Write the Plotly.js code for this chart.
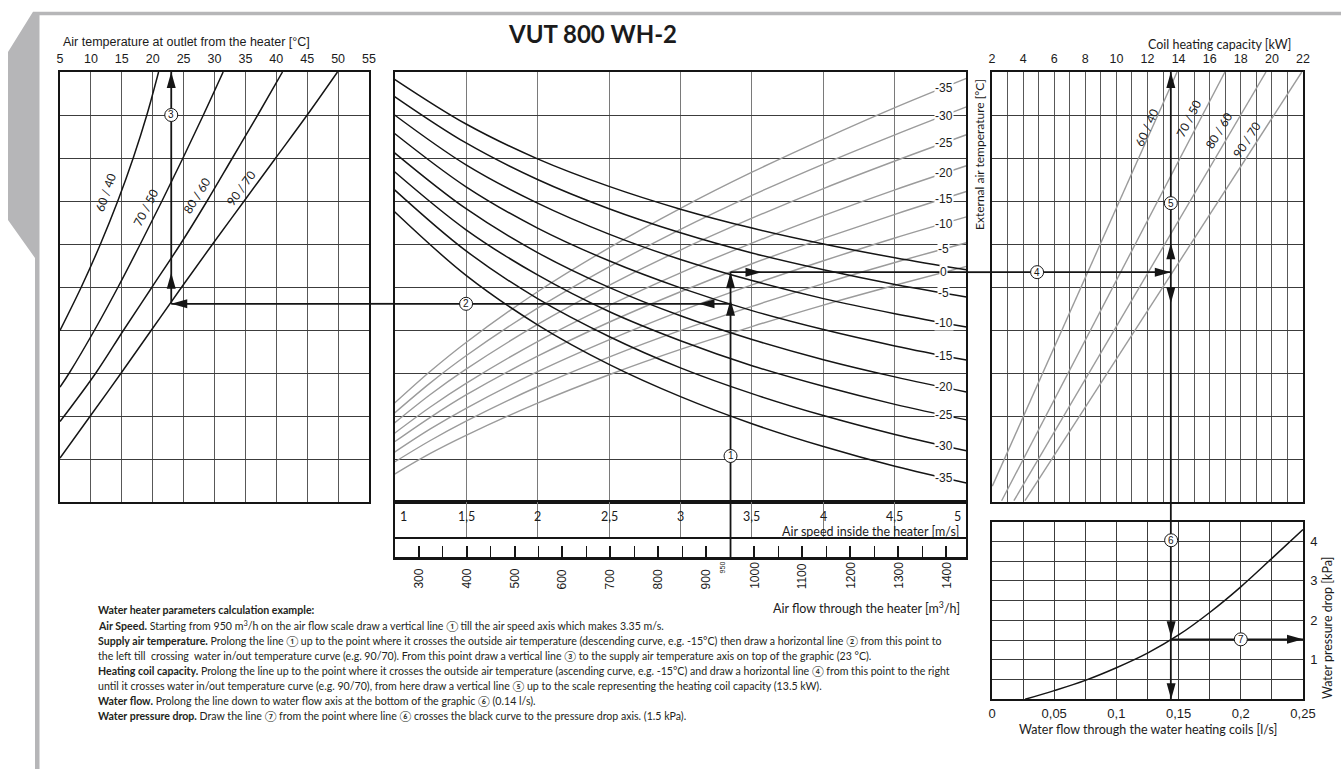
<!DOCTYPE html>
<html><head><meta charset="utf-8">
<script src="https://cdn.plot.ly/plotly-3.0.1.min.js"></script>
<style>html,body{margin:0;padding:0;background:#fff;}#chart{width:1341px;height:769px;}</style>
</head><body><div id="chart"></div>
<script>
// ================= DATA =================
const outletTempTicks = [5,10,15,20,25,30,35,40,45,50,55];
const capacityTicks   = [2,4,6,8,10,12,14,16,18,20,22];
const speedTicks      = [1,1.5,2,2.5,3,3.5,4,4.5,5];
const speedTickText   = ['1','1,5','2','2,5','3','3,5','4','4,5','5'];
const flowTicks       = [300,400,500,600,700,800,900,1000,1100,1200,1300,1400];
const flowMinorTicks  = [350,450,550,650,750,850,950,1050,1150,1250,1350];
const flowScale       = [250, 1442];          // air flow aligned with 1 m/s and 5 m/s
const waterFlowTicks  = [0,0.05,0.1,0.15,0.2,0.25];
const waterFlowText   = ['0','0,05','0,1','0,15','0,2','0,25'];
const pressureTicks   = [1,2,3,4];
const waterTempLabels = ['60 / 40','70 / 50','80 / 60','90 / 70'];

// left panel: supply air temperature curves (°C) vs nomogram level
const left6040T = [5.0, 8.45, 11.55, 14.35, 16.85, 19.05, 20.95];
const left6040U = [3.99, 5, 6, 7, 8, 9, 10];
const left7050T = [5.0, 6.5, 10.6, 14.4, 18.0, 21.5, 24.9, 28.2, 31.4];
const left7050U = [2.67, 3, 4, 5, 6, 7, 8, 9, 10];
const left8060T = [5.0, 10.8, 15.3, 19.9, 24.5, 28.8, 32.9, 37.0, 41.0];
const left8060U = [1.87, 3, 4, 5, 6, 7, 8, 9, 10];
const left9070T = [5.0, 9.9, 14.9, 19.8, 24.7, 29.7, 34.8, 39.9, 45.0, 49.9];
const left9070U = [1.02, 2, 3, 4, 5, 6, 7, 8, 9, 10];

// centre: descending (black) curves, outside temperature, vs air speed
const descSpeed = [1,1.5,2,2.5,3,3.5,4,4.5,5];
const desc_0   = [9.83, 8.79, 7.98, 7.34, 6.81, 6.37, 6.00, 5.68, 5.40];
const desc_m5  = [9.43, 8.35, 7.50, 6.82, 6.26, 5.79, 5.40, 5.06, 4.77];
const desc_m10 = [9.00, 7.84, 6.95, 6.23, 5.64, 5.15, 4.73, 4.38, 4.07];
const desc_m15 = [8.57, 7.33, 6.37, 5.61, 4.98, 4.45, 4.01, 3.63, 3.30];
const desc_m20 = [8.12, 6.82, 5.80, 4.99, 4.33, 3.78, 3.31, 2.91, 2.56];
const desc_m25 = [7.68, 6.33, 5.28, 4.43, 3.75, 3.17, 2.69, 2.27, 1.91];
const desc_m30 = [7.26, 5.84, 4.73, 3.85, 3.12, 2.52, 2.01, 1.57, 1.19];
const desc_m35 = [6.75, 5.27, 4.12, 3.20, 2.45, 1.82, 1.29, 0.83, 0.44];

// centre: ascending (grey) curves, outside temperature, vs air speed
const ascSpeed = [1,1.25,1.5,2,2.5,3,3.5,4,4.5,5];
const asc_m35 = [2.30, 3.04, 3.71, 4.89, 5.91, 6.83, 7.67, 8.44, 9.17, 9.85];
const asc_m30 = [2.07, 2.77, 3.40, 4.51, 5.47, 6.34, 7.13, 7.86, 8.54, 9.19];
const asc_m25 = [1.84, 2.50, 3.09, 4.13, 5.04, 5.86, 6.60, 7.29, 7.93, 8.54];
const asc_m20 = [1.60, 2.21, 2.76, 3.73, 4.57, 5.33, 6.02, 6.66, 7.26, 7.82];
const asc_m15 = [1.40, 1.97, 2.49, 3.39, 4.18, 4.89, 5.54, 6.13, 6.69, 7.22];
const asc_m10 = [1.16, 1.70, 2.18, 3.03, 3.77, 4.44, 5.05, 5.61, 6.14, 6.63];
const asc_m5  = [0.93, 1.43, 1.88, 2.68, 3.37, 3.99, 4.55, 5.08, 5.57, 6.03];
const asc_0   = [0.65, 1.13, 1.55, 2.30, 2.96, 3.55, 4.08, 4.58, 5.04, 5.48];

// right panel: coil heating capacity lines (kW) vs nomogram level
const cap6040 = [2.02, 13.9],  cap6040U = [0.37, 10];
const cap7050 = [2.62, 16.98], cap7050U = [0.03, 10];
const cap8060 = [3.41, 19.62], cap8060U = [0.03, 10];
const cap9070 = [4.12, 21.92], cap9070U = [0.03, 10];

// bottom right: water pressure drop
const waterFlow    = [0.0266, 0.05, 0.075, 0.1, 0.125, 0.15, 0.175, 0.2, 0.225, 0.25];
const pressureDrop = [0, 0.22, 0.48, 0.80, 1.17, 1.63, 2.20, 2.85, 3.57, 4.30];

// worked example
const exampleAirFlow   = 950;
const exampleAirSpeed  = 3.35;
const exampleSupplyT   = 23;
const exampleCapacity  = 13.5;
const exampleWaterFlow = 0.144;

// ================= LAYOUT HELPERS =================
const W = 1341, H = 769;
const px = v => v / W;
const py = v => 1 - v / H;
const LEFT = [60, 369], CENTER = [394.6, 966.4], RIGHT = [992, 1303];
const MAIN_Y = [72, 502], SPEED_Y = [502, 537], FLOW_Y = [537, 557], DROP_Y = [521.7, 699.3];
const GRID = '#585858', GRID_DARK = '#3c3c3c', GRID_LIGHT = '#7a7a7a';
const INK = '#151515', GREYLINE = '#9b9b9b';
const ARIAL = 'Liberation Sans, Arial, sans-serif';
const MYRIAD = 'Lato, Noto Sans, sans-serif';

function interp(xs, ys, x) {
  for (let i = 0; i < xs.length - 1; i++) {
    if (x >= xs[i] && x <= xs[i+1]) { const f = (x - xs[i]) / (xs[i+1] - xs[i]); return ys[i] + f * (ys[i+1] - ys[i]); }
  }
  return ys[ys.length - 1];
}
function line(xs, ys, xa, ya, color, width, shape) {
  return {type:'scatter', mode:'lines', x:xs, y:ys, xaxis:xa, yaxis:ya,
          line:{color:color, width:width, shape:shape || 'linear', smoothing:1}, hoverinfo:'skip'};
}

const uDesc = interp(descSpeed, desc_m15, exampleAirSpeed);   // line 2 level
const uAsc  = interp(ascSpeed, asc_m15, exampleAirSpeed);     // line 4 level
const examplePressure = interp(waterFlow, pressureDrop, exampleWaterFlow);

// ================= TRACES =================
const traces = [];
[[left6040T,left6040U],[left7050T,left7050U],[left8060T,left8060U],[left9070T,left9070U]]
  .forEach(c => traces.push(line(c[0], c[1], 'x', 'y', INK, 1.5, 'spline')));

const ascCurves  = [[-35,asc_m35],[-30,asc_m30],[-25,asc_m25],[-20,asc_m20],[-15,asc_m15],[-10,asc_m10],[-5,asc_m5],[0,asc_0]];
const descCurves = [[0,desc_0],[-5,desc_m5],[-10,desc_m10],[-15,desc_m15],[-20,desc_m20],[-25,desc_m25],[-30,desc_m30],[-35,desc_m35]];
ascCurves.forEach(c => traces.push(line(ascSpeed, c[1], 'x2', 'y', GREYLINE, 1.4, 'spline')));
descCurves.forEach(c => traces.push(line(descSpeed, c[1], 'x2', 'y', INK, 1.5, 'spline')));

[[cap6040,cap6040U],[cap7050,cap7050U],[cap8060,cap8060U],[cap9070,cap9070U]]
  .forEach(c => traces.push(line(c[0], c[1], 'x3', 'y', GREYLINE, 1.4)));

traces.push(line(waterFlow, pressureDrop, 'x4', 'y4', INK, 1.5, 'spline'));

// example lines
const EX = 1.8;
traces.push(line([exampleSupplyT, exampleSupplyT], [uDesc, 10], 'x', 'y', INK, EX));
traces.push(line([exampleSupplyT, 55], [uDesc, uDesc], 'x', 'y', INK, EX));
traces.push(line([1, exampleAirSpeed], [uDesc, uDesc], 'x2', 'y', INK, EX));
traces.push(line([exampleAirSpeed, exampleAirSpeed], [0, uAsc], 'x2', 'y', INK, EX));
traces.push(line([exampleAirSpeed, 5], [uAsc, uAsc], 'x2', 'y', INK, EX));
traces.push(line([2, exampleCapacity], [uAsc, uAsc], 'x3', 'y', INK, EX));
traces.push(line([exampleWaterFlow, 0.25], [examplePressure, examplePressure], 'x4', 'y4', INK, EX));
// empty traces so the axis strips exist
traces.push({type:'scatter', mode:'lines', x:[], y:[], xaxis:'x2', yaxis:'y5', hoverinfo:'skip'});
traces.push({type:'scatter', mode:'lines', x:[], y:[], xaxis:'x6', yaxis:'y6', hoverinfo:'skip'});

// ================= SHAPES =================
const shapes = [];
const deco = [[33,11.7],[1341,11.7],[1341,15.3],[39.5,15.3],[39.5,769],[35,769],[35,258],[8,220],[8,52]];
shapes.push({type:'path', xref:'paper', yref:'paper', layer:'below',
  path:'M' + deco.map(p => px(p[0]) + ',' + py(p[1])).join(' L') + ' Z', fillcolor:'#b6b6b8', line:{width:0}});

const seg = (o) => Object.assign({type:'line', layer:'above', line:{color:INK, width:EX}}, o);
shapes.push(seg({xref:'paper', yref:'y', x0:px(LEFT[1]), x1:px(CENTER[0]), y0:uDesc, y1:uDesc}));
shapes.push(seg({xref:'paper', yref:'y', x0:px(CENTER[1]), x1:px(RIGHT[0]), y0:uAsc, y1:uAsc}));
shapes.push(seg({xref:'x2', yref:'paper', x0:exampleAirSpeed, x1:exampleAirSpeed, y0:py(FLOW_Y[1]), y1:py(MAIN_Y[1])}));
shapes.push(seg({xref:'x3', yref:'paper', x0:exampleCapacity, x1:exampleCapacity, y0:py(DROP_Y[1]), y1:py(MAIN_Y[0])}));

const UP    = t => `M0,${t} L-4.5,${t-16} L4.5,${t-16} Z`;
const DOWN  = t => `M0,${t} L-4.5,${t+16} L4.5,${t+16} Z`;
const LEFTA = t => `M${t},0 L${t+16},4.5 L${t+16},-4.5 Z`;
const RIGHTA= t => `M${t},0 L${t-16},4.5 L${t-16},-4.5 Z`;
function arrow(xref, yref, xv, yv, path) {
  shapes.push({type:'path', xref:xref, yref:yref, xsizemode:'pixel', ysizemode:'pixel',
    xanchor:xv, yanchor:yv, path:path, fillcolor:INK, line:{width:0}, layer:'above'});
}
arrow('x','y', exampleSupplyT, 10, UP(0));
arrow('x','y', exampleSupplyT, uDesc, UP(31));
arrow('x','y', exampleSupplyT, uDesc, LEFTA(0));
arrow('x2','y', exampleAirSpeed, uDesc, LEFTA(-32));
arrow('x2','y', exampleAirSpeed, uDesc, UP(4));
arrow('x2','y', exampleAirSpeed, uAsc, UP(0));
arrow('x2','y', exampleAirSpeed, uAsc, RIGHTA(31));
arrow('x3','y', exampleCapacity, uAsc, RIGHTA(0));
arrow('x3','y', exampleCapacity, uAsc, UP(29));
arrow('x3','y', exampleCapacity, 10, UP(0));
arrow('x3','y', exampleCapacity, uAsc, DOWN(-31));
arrow('x4','y4', exampleWaterFlow, examplePressure, DOWN(2));
arrow('x4','y4', exampleWaterFlow, 0, DOWN(0));
arrow('x4','y4', 0.25, examplePressure, RIGHTA(0));

// ================= ANNOTATIONS =================
const ann = [];
const txt = (o) => Object.assign({showarrow:false, xref:'paper', yref:'paper', xanchor:'center', yanchor:'middle',
  font:{family:MYRIAD, size:12.5, color:'#1b1b1b'}}, o);

function marker(xref, yref, xv, yv, n) {
  shapes.push({type:'circle', xref:xref, yref:yref, xsizemode:'pixel', ysizemode:'pixel', xanchor:xv, yanchor:yv,
    x0:-6.5, x1:6.5, y0:-6.5, y1:6.5, fillcolor:'#fff', line:{color:INK, width:1}, layer:'above'});
  ann.push({showarrow:false, xref:xref, yref:yref, x:xv, y:yv, xanchor:'center', yanchor:'middle',
    text:String(n), font:{family:ARIAL, size:10, color:INK}});
}
marker('x2','y', exampleAirSpeed, 1.07, 1);
marker('x2','y', 1.5, uDesc, 2);
marker('x','y', exampleSupplyT, 9.0, 3);
marker('x3','y', 4.9, uAsc, 4);
marker('x3','y', exampleCapacity, 6.95, 5);
marker('x4','y4', exampleWaterFlow, 4.03, 6);
marker('x4','y4', 0.2, examplePressure, 7);

ann.push(txt({x:px(592), y:py(33), text:'<b>VUT 800 WH-2</b>', font:{family:MYRIAD, size:24, color:'#1b1b1b'}}));
ann.push(txt({x:px(61), y:py(42), xanchor:'left', text:'Air temperature at outlet from the heater [°C]', font:{family:ARIAL, size:12.5, color:'#1b1b1b'}}));
ann.push(txt({x:px(1293), y:py(44), xanchor:'right', text:'Coil heating capacity [kW]'}));
ann.push(txt({x:px(979), y:py(155), text:'External air temperature [°C]', textangle:-90, font:{family:MYRIAD, size:12, color:'#1b1b1b'}}));
ann.push(txt({x:px(961), y:py(531), xanchor:'right', text:'Air speed inside the heater [m/s]'}));
ann.push(txt({x:px(962), y:py(607), xanchor:'right', text:'Air flow through the heater [m<sup>3</sup>/h]'}));
ann.push(txt({x:px(1327), y:py(628), text:'Water pressure drop [kPa]', textangle:-90}));
ann.push(txt({x:px(1148), y:py(729), text:'Water flow through the water heating coils [l/s]'}));

speedTicks.forEach((s, i) => {
  const first = i === 0, last = i === speedTicks.length - 1;
  ann.push({showarrow:false, xref:'x2', yref:'paper', x:s, y:py(516), yanchor:'middle', text:speedTickText[i],
    xanchor: first ? 'left' : (last ? 'right' : 'center'), xshift: first ? 3 : (last ? -3 : 0),
    font:{family:MYRIAD, size:12.5, color:'#1b1b1b'}});
});
flowTicks.forEach(f => ann.push({showarrow:false, xref:'x6', yref:'paper', x:f, xanchor:'center', y:py(591), yanchor:'bottom',
  textangle:-90, text:String(f), font:{family:ARIAL, size:12, color:'#1b1b1b'}}));
ann.push({showarrow:false, xref:'x6', yref:'paper', x:exampleAirFlow, xanchor:'center', xshift:-8, y:py(559), yanchor:'top',
  textangle:-90, text:String(exampleAirFlow), font:{family:ARIAL, size:7, color:'#1b1b1b'}});

const labelSpeed = 4.84;
const curveLabel = (t, u) => ann.push({showarrow:false, xref:'x2', yref:'y', x:labelSpeed, y:u, xanchor:'center', yanchor:'middle',
  text:String(t), bgcolor:'#fff', borderpad:0, font:{family:ARIAL, size:12, color:'#1b1b1b'}});
ascCurves.forEach(c => curveLabel(c[0], interp(ascSpeed, c[1], labelSpeed)));
descCurves.filter(c => c[0] !== 0).forEach(c => curveLabel(c[0], interp(descSpeed, c[1], labelSpeed)));

const leftLabelPos = [[105,193,-71],[145,208,-63],[196,196,-58],[241,189,-54]];
const rightLabelPos = [[1146,128,-66],[1188,119,-63],[1218,131,-59],[1246,140,-57]];
waterTempLabels.forEach((t, i) => {
  ann.push(txt({x:px(leftLabelPos[i][0]), y:py(leftLabelPos[i][1]), text:t, textangle:leftLabelPos[i][2], font:{family:MYRIAD, size:12, color:'#1b1b1b'}}));
  ann.push(txt({x:px(rightLabelPos[i][0]), y:py(rightLabelPos[i][1]), text:t, textangle:rightLabelPos[i][2], font:{family:MYRIAD, size:12, color:'#1b1b1b'}}));
});

const noteLines = [
  '<b>Water heater parameters calculation example:</b>',
  '<b>Air Speed.</b> Starting from 950 m<sup>3</sup>/h on the air flow scale draw a vertical line ① till the air speed axis which makes 3.35 m/s.',
  '<b>Supply air temperature.</b> Prolong the line ① up to the point where it crosses the outside air temperature (descending curve, e.g. -15°C) then draw a horizontal line ② from this point to',
  'the left till  crossing  water in/out temperature curve (e.g. 90/70). From this point draw a vertical line ③ to the supply air temperature axis on top of the graphic (23 °C).',
  '<b>Heating coil capacity.</b> Prolong the line up to the point where it crosses the outside air temperature (ascending curve, e.g. -15°C) and draw a horizontal line ④ from this point to the right',
  'until it crosses water in/out temperature curve (e.g. 90/70), from here draw a vertical line ⑤ up to the scale representing the heating coil capacity (13.5 kW).',
  '<b>Water flow.</b> Prolong the line down to water flow axis at the bottom of the graphic ⑥ (0.14 l/s).',
  '<b>Water pressure drop.</b> Draw the line ⑦ from the point where line ⑥ crosses the black curve to the pressure drop axis. (1.5 kPa).'
];
const noteY = [610, 625, 640.5, 655.5, 670.5, 685.5, 700.5, 715.5];
noteLines.forEach((t, i) => ann.push(txt({x:px(96), y:py(noteY[i]), xanchor:'left', text:t,
  font:{family:MYRIAD, size:10.6, color:'#231f20'}})));

// ================= AXES =================
const box = {showline:true, linecolor:INK, linewidth:1.6, mirror:'all', zeroline:false, fixedrange:true};
const layout = {
  width:W, height:H, margin:{l:0, r:0, t:0, b:0}, paper_bgcolor:'#fff', plot_bgcolor:'#fff',
  showlegend:false, hovermode:false, font:{family:ARIAL, size:12, color:'#1b1b1b'},
  xaxis: Object.assign({domain:[px(LEFT[0]), px(LEFT[1])], range:[5,55], anchor:'y', side:'top',
    tickmode:'array', tickvals:outletTempTicks, ticks:'', showgrid:true, gridcolor:GRID, gridwidth:1,
    tickfont:{family:ARIAL, size:12.5}, ticklabelstandoff:2}, box),
  yaxis: Object.assign({domain:[py(MAIN_Y[1]), py(MAIN_Y[0])], range:[0,10], anchor:'x', dtick:1, tick0:0,
    ticks:'', showticklabels:false, showgrid:true, gridcolor:GRID_DARK, gridwidth:1}, box),
  xaxis2: Object.assign({domain:[px(CENTER[0]), px(CENTER[1])], range:[1,5], anchor:'y', dtick:0.5, tick0:1,
    ticks:'', showticklabels:false, showgrid:true, gridcolor:GRID_LIGHT, gridwidth:1}, box),
  xaxis3: Object.assign({domain:[px(RIGHT[0]), px(RIGHT[1])], range:[2,22], anchor:'y', side:'top',
    tickmode:'array', tickvals:capacityTicks, ticks:'', showgrid:true, gridcolor:GRID, gridwidth:1,
    minor:{dtick:1, tick0:2, showgrid:true, gridcolor:GRID, gridwidth:1, ticks:''},
    tickfont:{family:ARIAL, size:12.5}, ticklabelstandoff:2}, box),
  yaxis5: Object.assign({domain:[py(SPEED_Y[1]), py(SPEED_Y[0])], range:[0,1], anchor:'x2',
    ticks:'', showticklabels:false, showgrid:false}, box),
  xaxis6: {domain:[px(CENTER[0]), px(CENTER[1])], range:flowScale, anchor:'y6', side:'bottom',
    tickmode:'array', tickvals:flowTicks, ticks:'inside', ticklen:11, tickwidth:2, tickcolor:INK,
    showticklabels:false, showgrid:false, zeroline:false, fixedrange:true,
    showline:true, linecolor:INK, linewidth:2.6, mirror:false,
    minor:{tickmode:'array', tickvals:flowMinorTicks, ticks:'inside', ticklen:11, tickwidth:1, tickcolor:INK, showgrid:false}},
  yaxis6: {domain:[py(FLOW_Y[1]), py(FLOW_Y[0])], range:[0,1], anchor:'x6', ticks:'', showticklabels:false,
    showgrid:false, zeroline:false, showline:true, linecolor:INK, linewidth:1.6, mirror:true, fixedrange:true},
  xaxis4: Object.assign({domain:[px(RIGHT[0]), px(RIGHT[1])], range:[0,0.25], anchor:'y4',
    tickmode:'array', tickvals:waterFlowTicks, ticktext:waterFlowText, ticks:'', showgrid:true, gridcolor:GRID_DARK, gridwidth:1,
    minor:{dtick:0.025, tick0:0, showgrid:true, gridcolor:GRID_DARK, gridwidth:1, ticks:''},
    tickfont:{family:ARIAL, size:13}, ticklabelstandoff:1}, box),
  yaxis4: Object.assign({domain:[py(DROP_Y[1]), py(DROP_Y[0])], range:[0,4.5], anchor:'x4', side:'right',
    tickmode:'array', tickvals:pressureTicks, ticks:'', showgrid:true, gridcolor:GRID_DARK, gridwidth:1,
    minor:{dtick:0.5, tick0:0, showgrid:true, gridcolor:GRID_DARK, gridwidth:1, ticks:''},
    tickfont:{family:ARIAL, size:13}, ticklabelstandoff:3}, box),
  shapes: shapes,
  annotations: ann
};

Plotly.newPlot('chart', traces, layout, {displayModeBar:false, staticPlot:true});
</script>
</body></html>
